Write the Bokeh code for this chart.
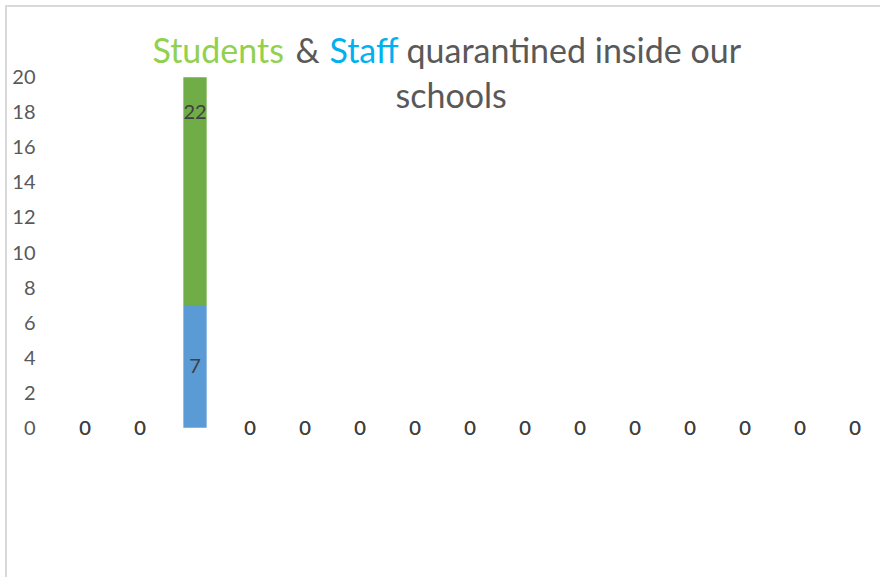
from bokeh.plotting import figure
from bokeh.models import ColumnDataSource, Range1d, FixedTicker, Label
from bokeh.core.properties import value
from bokeh.embed import file_html
from bokeh.resources import INLINE

# ---- data ----
categories = list(range(1, 16))
staff = [0, 0, 7, 0, 0, 0, 0, 0, 0, 0, 0, 0, 0, 0, 0]
students = [0, 0, 22, 0, 0, 0, 0, 0, 0, 0, 0, 0, 0, 0, 0]
y_ticks = [0, 2, 4, 6, 8, 10, 12, 14, 16, 18, 20]
Y_MAX = 20  # value axis maximum; bars are clipped here as in the original

FONT = "Lato"
BLUE = "#5B9BD5"
GREEN = "#70AD47"

stack_top = [s + g for s, g in zip(staff, students)]
src = ColumnDataSource(dict(
    x=categories,
    staff_top=[min(v, Y_MAX) for v in staff],
    students_bottom=[min(v, Y_MAX) for v in staff],
    students_top=[min(v, Y_MAX) for v in stack_top],
    staff_mid=[s / 2 for s in staff],
    students_mid=[s + g / 2 for s, g in zip(staff, students)],
    staff_lbl=[str(v) for v in staff],
    students_lbl=[str(v) for v in students],
))

FRAME_LEFT = 57.0
PX_PER_CAT = 55.0
Y0_PX = 427.3
PX_PER_UNIT = 17.53
W, H = 880, 577

p = figure(width=W, height=H, output_backend="svg", toolbar_location=None,
           x_range=Range1d(0.5, 0.5 + (W - FRAME_LEFT) / PX_PER_CAT),
           y_range=Range1d(-(H - Y0_PX) / PX_PER_UNIT, Y0_PX / PX_PER_UNIT),
           min_border_left=int(FRAME_LEFT), min_border_right=0,
           min_border_top=0, min_border_bottom=0)

# light grey chart-area border (left and top edges) drawn behind a transparent canvas
p.stylesheets = [
    ":host { background:"
    " linear-gradient(#d9d9d9,#d9d9d9) 5px 5px / 2px 100% no-repeat,"
    " linear-gradient(#d9d9d9,#d9d9d9) 5px 5px / 100% 2px no-repeat,"
    " white; }"
]

p.vbar(x="x", bottom=0, top="staff_top", width=0.424, color=BLUE, line_color=None, source=src)
p.vbar(x="x", bottom="students_bottom", top="students_top", width=0.424, color=GREEN,
       line_color=None, source=src)

for col in ["staff", "students"]:
    p.text(x="x", y=col + "_mid", text=col + "_lbl", source=src,
           text_align="center", text_baseline="middle",
           text_font=value(FONT), text_font_size="20px", text_color="#404040")

p.xaxis.visible = False
p.yaxis.ticker = FixedTicker(ticks=y_ticks)
p.yaxis.axis_line_color = None
p.yaxis.major_tick_line_color = None
p.yaxis.minor_tick_line_color = None
p.yaxis.major_tick_out = 0
p.yaxis.major_tick_in = 0
p.yaxis.major_label_standoff = 22
p.yaxis.major_label_text_font = FONT
p.yaxis.major_label_text_font_size = "20px"
p.yaxis.major_label_text_color = "#595959"
p.grid.visible = False
p.outline_line_color = None
p.background_fill_color = None
p.border_fill_color = None

title_parts = [
    ("Students", "#92D050", 152, 49),
    ("&", "#595959", 295, 49),
    ("Staff", "#00B0F0", 329, 49),
    ("quarantined inside our", "#595959", 406, 49),
    ("schools", "#595959", 395, 94),
]
for txt, col, px, py in title_parts:
    p.add_layout(Label(x=0.5 + (px - FRAME_LEFT) / PX_PER_CAT, y=(Y0_PX - py) / PX_PER_UNIT,
                       text=txt, text_color=col, text_font=FONT, text_font_size="34px",
                       text_baseline="alphabetic", text_align="left"))

open("out.html", "w").write(file_html(p, INLINE))
